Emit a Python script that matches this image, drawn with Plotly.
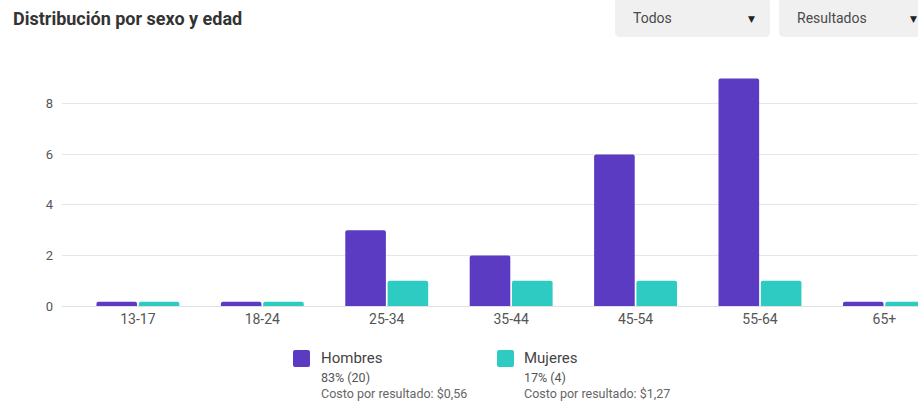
import plotly.graph_objects as go

categories = ["13-17", "18-24", "25-34", "35-44", "45-54", "55-64", "65+"]
hombres = [0, 0, 3, 2, 6, 9, 0]
mujeres = [0, 0, 1, 1, 1, 1, 0]
series_names = ["Hombres", "Mujeres"]
series_share = ["83% (20)", "17% (4)"]
series_cost = ["Costo por resultado: $0,56", "Costo por resultado: $1,27"]
y_ticks = [0, 2, 4, 6, 8]
title_text = "Distribución por sexo y edad"
dropdown_labels = ["Todos", "Resultados"]

COL_H = "#5a3bc2"
COL_M = "#2ecbc3"
MIN_STUB = 0.17  # zero values are drawn as a small stub, like the original

W, H = 918, 405
ML, MR, MT, MB = 62, 0, 71, 99
PW = W - ML - MR
PH = H - MT - MB


def px(x):
    return (x - ML) / PW


def py(y):
    return (H - MB - y) / PH


def disp(vals):
    return [v if v > 0 else MIN_STUB for v in vals]


fig = go.Figure()
fig.add_trace(go.Bar(x=categories, y=disp(hombres), name=series_names[0],
                     marker=dict(color=COL_H, cornerradius=2, line=dict(width=0)),
                     customdata=hombres, hovertemplate="%{x}: %{customdata}<extra>Hombres</extra>"))
fig.add_trace(go.Bar(x=categories, y=disp(mujeres), name=series_names[1],
                     marker=dict(color=COL_M, cornerradius=2, line=dict(width=0)),
                     customdata=mujeres, hovertemplate="%{x}: %{customdata}<extra>Mujeres</extra>"))


def rounded_rect(x0, y0, x1, y1, r):
    X0, X1 = px(x0), px(x1)
    Y0, Y1 = py(y0), py(y1)
    rx = r / PW
    ry = r / PH
    return (f"M {X0+rx},{Y0} L {X1-rx},{Y0} Q {X1},{Y0} {X1},{Y0-ry} "
            f"L {X1},{Y1+ry} Q {X1},{Y1} {X1-rx},{Y1} L {X0+rx},{Y1} "
            f"Q {X0},{Y1} {X0},{Y1+ry} L {X0},{Y0-ry} Q {X0},{Y0} {X0+rx},{Y0} Z")


shapes = []
annotations = []

annotations.append(dict(x=px(11), y=py(19), xref="paper", yref="paper", text=f"<b>{title_text}</b>",
                        showarrow=False, xanchor="left", yanchor="middle",
                        font=dict(family="Roboto", size=18, color="#333333")))

dd_boxes = [(615, 770, 631, 751), (779, 930, 795, 913)]
for (bx0, bx1, tx, ax), lab in zip(dd_boxes, dropdown_labels):
    shapes.append(dict(type="path", xref="paper", yref="paper", path=rounded_rect(bx0, -2, bx1, 37, 5),
                       fillcolor="#f0f0f0", line=dict(width=0), layer="below"))
    annotations.append(dict(x=px(tx), y=py(18), xref="paper", yref="paper", text=lab, showarrow=False,
                            xanchor="left", yanchor="middle",
                            font=dict(family="Roboto", size=14, color="#4a4a4a")))
    annotations.append(dict(x=px(ax), y=py(19), xref="paper", yref="paper", text="▼", showarrow=False,
                            xanchor="center", yanchor="middle",
                            font=dict(family="DejaVu Sans", size=9, color="#222222")))

leg = [(293, 319, COL_H), (497, 522, COL_M)]
for i, (sx, tx, col) in enumerate(leg):
    shapes.append(dict(type="path", xref="paper", yref="paper", path=rounded_rect(sx, 350, sx + 17, 367, 2),
                       fillcolor=col, line=dict(width=0)))
    annotations.append(dict(x=px(tx), y=py(358), xref="paper", yref="paper", text=series_names[i],
                            showarrow=False, xanchor="left", yanchor="middle",
                            font=dict(family="Roboto", size=15, color="#444444")))
    annotations.append(dict(x=px(tx), y=py(377), xref="paper", yref="paper", text=series_share[i],
                            showarrow=False, xanchor="left", yanchor="middle",
                            font=dict(family="Roboto", size=12.5, color="#555555")))
    annotations.append(dict(x=px(tx), y=py(393), xref="paper", yref="paper", text=series_cost[i],
                            showarrow=False, xanchor="left", yanchor="middle",
                            font=dict(family="Roboto", size=12.5, color="#666666")))

fig.update_layout(
    width=W, height=H,
    margin=dict(l=ML, r=MR, t=MT, b=MB),
    paper_bgcolor="white", plot_bgcolor="white",
    barmode="group", bargap=0.32, bargroupgap=0.04,
    showlegend=False,
    font=dict(family="Roboto", size=12, color="#555555"),
    shapes=shapes, annotations=annotations,
    xaxis=dict(range=[-0.61, 6.27], showgrid=False, zeroline=False, showline=False,
               ticks="", tickfont=dict(size=14, color="#555555"), ticklabelstandoff=3),
    yaxis=dict(range=[0, 9.3], tickvals=y_ticks, showgrid=True, gridcolor="#e6e6e6", gridwidth=1,
               zeroline=True, zerolinecolor="#e0e0e0", zerolinewidth=1, showline=False,
               ticks="", tickfont=dict(size=13, color="#555555"), ticklabelstandoff=8),
)

fig.write_html("out.html", config={"displayModeBar": False},
               post_script="document.body.style.margin='0';document.body.style.overflow='hidden';")
